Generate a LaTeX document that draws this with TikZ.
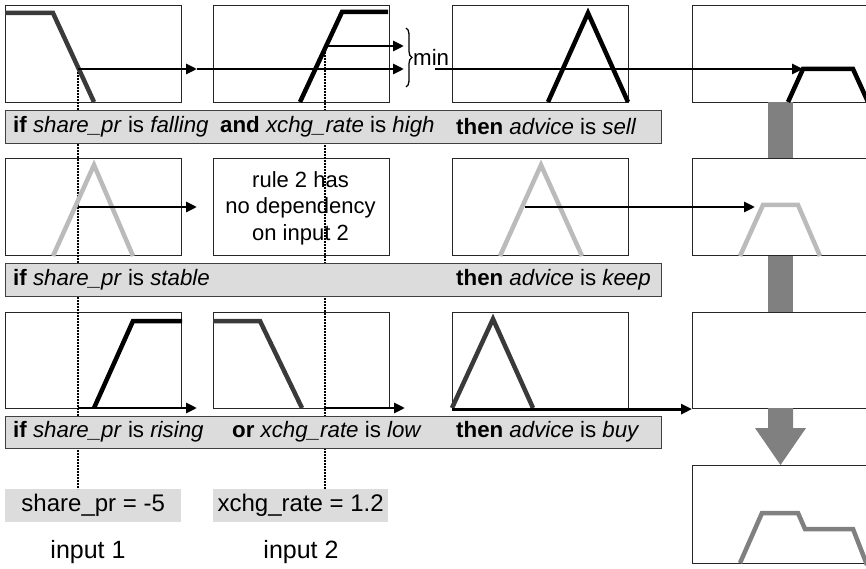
\documentclass[tikz,border=0pt]{standalone}
\usepackage{fontspec}
\setmainfont{Liberation Sans}
\usetikzlibrary{arrows.meta,decorations.pathreplacing}
\definecolor{dk}{HTML}{3A3A3A}
\definecolor{lt}{HTML}{BBBBBB}
\definecolor{md}{HTML}{808080}
\definecolor{barfill}{HTML}{DCDCDC}
\begin{document}
\begin{tikzpicture}[x=1pt,y=-1pt,
  mfbox/.style={draw=black!85,line width=1.1pt,anchor=north west,inner sep=0pt,minimum width=176pt,minimum height=97pt},
  rulebar/.style={draw=black!75,line width=1pt,fill=barfill,anchor=north west,inner sep=0pt,minimum width=656pt,minimum height=33pt},
  inbox/.style={fill=barfill,anchor=north west,inner sep=0pt,minimum width=176pt,minimum height=33pt},
  mf/.style={line width=4.5pt,line join=miter},
  flow/.style={line width=2.8pt,-{Triangle[length=11pt,width=10pt]}},
  dotline/.style={line width=1.6pt,dash pattern=on 1.6pt off 1.4pt},
  txt/.style={font=\fontsize{22.3}{26}\selectfont,inner sep=0pt,anchor=west},
  intxt/.style={font=\fontsize{24}{28}\selectfont,inner sep=0pt}
]
\useasboundingbox (0,0) rectangle (866,569);
\begin{scope}
\clip (0,0) rectangle (866,569);
% boxes
\node[mfbox] (b11) at (5,5) {};
\node[mfbox] (b12) at (213,5) {};
\node[mfbox] (b13) at (452,5) {};
\node[mfbox,minimum width=190pt] (b14) at (692,5) {};
\node[mfbox] (b21) at (5,158) {};
\node[mfbox] (b22) at (213,158) {};
\node[mfbox] (b23) at (452,158) {};
\node[mfbox,minimum width=190pt] (b24) at (692,158) {};
\node[mfbox,minimum height=96pt] (b31) at (5,312) {};
\node[mfbox,minimum height=96pt] (b32) at (213,312) {};
\node[mfbox,minimum height=96pt] (b33) at (452,312) {};
\node[mfbox,minimum width=190pt,minimum height=96pt] (b34) at (692,312) {};
\node[mfbox,minimum width=190pt,minimum height=98pt] (bout) at (692,465) {};
% input boxes
\node[inbox] (in1) at (5,489) {};
\node[inbox,minimum width=175pt] (in2) at (213,489) {};
\node[intxt] at (in1.center) {share\_pr = -5};
\node[intxt] at (in2.center) {xchg\_rate = 1.2};
% dotted lines
\coordinate (d1) at (78,69);
\coordinate (d2) at (325,46);
\draw[dotline] (d1) -- (d1 |- in1.north);
\draw[dotline] (d2) -- (d2 |- in2.north);
% rule bars
\node[rulebar] (r1) at (5,110) {};
\node[rulebar] (r2) at (5,263) {};
\node[rulebar,minimum height=32pt] (r3) at (5,416) {};
\node[txt] at (13,126.5) {\textbf{if} \textit{share\_pr} is \textit{falling}};
\node[txt] at (220,126.5) {\textbf{and} \textit{xchg\_rate} is \textit{high}};
\node[txt] at (456,126.5) {\textbf{then} \textit{advice} is \textit{sell}};
\node[txt] at (13,279.5) {\textbf{if} \textit{share\_pr} is \textit{stable}};
\node[txt] at (456,279.5) {\textbf{then} \textit{advice} is \textit{keep}};
\node[txt] at (13,432) {\textbf{if} \textit{share\_pr} is \textit{rising}};
\node[txt] at (232,432) {\textbf{or} \textit{xchg\_rate} is \textit{low}};
\node[txt] at (456,432) {\textbf{then} \textit{advice} is \textit{buy}};
% gray aggregation bars and arrow
\fill[md] (768,102) rectangle (793,158);
\fill[md] (768,256) rectangle (793,312);
\fill[md] (768,408) -- (793,408) -- (793,428) -- (806,428) -- (780.5,465) -- (755,428) -- (768,428) -- cycle;
% membership functions
\draw[mf,dk] (5,13) -- (53,13) -- (94,102);
\draw[mf,black] (300,102) -- (342,12) -- (388,12);
\draw[mf,black] (548,102) -- (588,13) -- (628,102);
\draw[mf,black] (788,102) -- (803,69) -- (853,69) -- (868,102);
\draw[mf,lt] (53,256) -- (94,165) -- (133,256);
\draw[mf,lt] (500,256) -- (541,165) -- (582,256);
\draw[mf,lt] (740,256) -- (763,205) -- (798,205) -- (820,256);
\draw[mf,black] (94,408) -- (133,321) -- (182,321);
\draw[mf,dk] (213,321) -- (260,321) -- (302,408);
\draw[mf,dk] (452,408) -- (493,319) -- (533,408);
\draw[mf,md] (740,563) -- (762,513) -- (798,513) -- (805,529) -- (853,529) -- (867,565);
% flows
\coordinate (m1) at (197,69);
\coordinate (e1) at (404,69);
\coordinate (e2) at (404,46);
\coordinate (s3) at (435,69);
\coordinate (t3) at (803,69);
\draw[flow] (d1) -- (m1);
\draw[flow] (m1) -- (e1);
\draw[flow] (d2) -- (e2);
\draw[decorate,decoration={brace,amplitude=6pt},line width=1.3pt] (406,28) -- (406,87);
\node[font=\fontsize{22.3}{26}\selectfont,inner sep=0pt,anchor=west] (min) at (413,57) {min};
\draw[flow] (s3) -- (t3);
\coordinate (p2) at (78,207);
\coordinate (q2) at (197,207);
\draw[flow] (p2) -- (q2);
\coordinate (p3) at (525,207);
\coordinate (q3) at (755,207);
\draw[flow] (p3) -- (q3);
\coordinate (p4) at (78,408);
\coordinate (q4) at (197,408);
\draw[flow] (p4) -- (q4);
\coordinate (p5) at (325,408);
\coordinate (q5) at (405,408);
\draw[flow] (p5) -- (q5);
\draw[flow] (b33.south west) -- (b34.south west);
% text in box
\node[font=\fontsize{22}{26.5}\selectfont,align=center,inner sep=0pt] (note) at (300.5,208) {rule 2 has\\no dependency\\on input 2};
% input labels
\node[intxt,font=\fontsize{25}{28}\selectfont] (lab1) at (88,552) {input 1};
\node[intxt,font=\fontsize{25}{28}\selectfont] (lab2) at (301,552) {input 2};
\end{scope}
\end{tikzpicture}
\end{document}
